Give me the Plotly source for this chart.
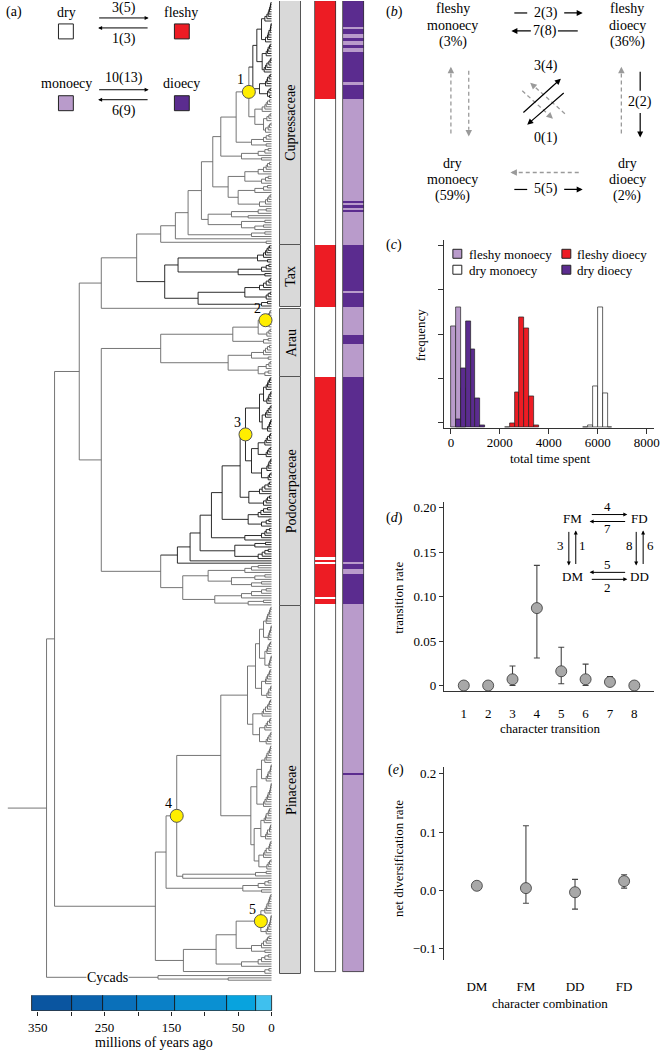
import plotly.graph_objects as go

W, H = 666, 1054
FONT = "Liberation Serif"

# ------------------------------------------------------------------ DATA
# (a) dated phylogeny (node ages in millions of years; "t" = tip)
def N(age, *kids, mark=None):
    return {"age": age, "mark": mark, "col": None,
            "kids": [k if isinstance(k, dict) else
                     {"age": 0.0, "mark": None, "col": None, "kids": []} for k in kids]}

def L(*ages):  # ladder-shaped subclade with the given internal node ages
    node = N(ages[-1], "t", "t")
    for a in reversed(ages[:-1]):
        node = N(a, node, "t")
    return node

t = "t"
juniperus = N(28, N(22, N(15, L(10, 7, 5, 4, 3, 2, 1.5, 1), L(9, 6, 5, 4, 2, 1.5, 1, 0.5)),
                        N(14, L(8, 6, 5, 3, 2), L(11, 9, 7, 4, 2, 1))),
              N(18, L(9, 7, 6, 3.5, 2), N(6, L(4, 2), N(3, t, t))))
cupressus = N(25, L(14, 10, 8, 6, 3), N(12, L(7, 4, 2), L(9, 5, 3, 1)))
callitroideae = N(65, N(40, L(20, 12, 8, 6, 3), N(15, L(9, 5), t)),
                      N(50, N(25, L(12, 6), t), L(18, 9, 6, 4, 2)))
taxodioideae = N(95, N(60, N(20, N(8, t, t), t), N(35, t, t)), N(45, N(10, t, t), L(25, 12)))
cupressaceae = N(166,
    N(144,
      N(125,
        N(105,
          N(88,
            N(76, N(53, N(34, juniperus, cupressus, mark=1), N(30, L(12, 8, 4), N(8, t, t))),
                  N(45, N(20, L(10, 5), t), N(15, t, t))),
            callitroideae),
          taxodioideae),
        N(30, N(10, t, t), t)),
      t),
    N(8, t, t))
taxaceae = N(160, N(140, N(21, L(12, 9, 7, 5, 3), N(6, t, t)),
                         N(50, N(15, L(8, 4), t), N(10, t, t))),
                  N(110, N(40, L(18, 12, 8, 4, 2), N(8, L(5, 2), t)), N(15, N(6, t, t), t)))
araucariaceae = N(166, N(58, N(20, N(9, L(5, 3, 2), L(4, 2, 1), mark=2), L(7, 4, 2)),
                             N(12, N(5, t, t), t)),
                       N(65, N(30, L(12, 9, 6, 3), N(5, t, t)),
                             N(20, N(8, L(4, 2), t), L(10, 5))))
podo_node3 = N(39, N(18, N(12, L(8, 6, 5, 3, 2), L(7, 5, 4, 2, 1)),
                         N(14, L(9, 7, 5, 2.5, 1), L(6, 4, 3, 1.5, 0.8))),
                   N(30, N(20, L(10, 8, 6, 3, 1.5), L(8, 6, 4, 2)),
                         N(15, L(7, 5, 4, 2, 1), N(5, L(3, 1), t))), mark=3)
podo_ladder = N(141, N(122, N(107, N(90, N(74, N(47, podo_node3,
                                                     N(34, L(18, 14, 10, 5, 3), L(12, 8, 6, 3))),
                                              N(35, L(20, 16, 12, 6), L(15, 8, 4))),
                                        N(40, L(15, 10, 8, 3), t)),
                                  N(55, N(25, N(9, t, t), t), L(20, 14, 10, 5))),
                            t),
                t)
podo_basal = N(133, N(95, L(40, 30, 20), N(60, N(25, N(10, t, t), t), L(30, 15))),
                    N(85, L(45, 30, 15, 8), N(35, N(12, t, t), t)))
podocarpaceae = N(166, podo_ladder, podo_basal)
pinus_upper = N(36, N(24, N(18, N(12, L(8, 7, 6, 4, 3, 2, 1), L(5, 4, 3, 1.5, 1, 0.5)),
                                 N(10, L(7, 6, 5, 3, 1.5), L(4, 3, 2, 1, 0.5))),
                           N(15, L(9, 8, 6, 4, 3, 2), L(7, 5, 4, 1.5, 1))),
                    N(28, L(14, 12, 9, 6, 4, 3, 1.5),
                          N(18, L(10, 8, 6, 3, 2), L(8, 6, 4, 2, 1))))
pinus_lower = N(31, N(22, N(15, L(10, 8, 7, 5, 3, 2, 1.5), L(8, 6, 5, 2.5, 1.5, 1, 0.5)),
                          L(12, 10, 8, 6, 5, 3, 2, 1.5, 0.8, 0.5)),
                    N(26, N(16, L(11, 9, 8, 5, 4, 3), L(9, 7, 6, 3, 2, 1.5)),
                          N(19, L(12, 10, 8, 4, 3, 2, 1), L(7, 5, 3, 1))))
pinaceae = N(174,
    N(158, N(142, N(76, pinus_upper, pinus_lower), N(133, N(24, N(8, t, t), t), t), mark=4),
           N(43, N(20, L(10, 5), t), N(15, t, t))),
    N(132, N(83, N(53, N(16, L(10, 8, 7, 5, 4, 3, 2, 1), L(8, 6, 5, 3, 2, 1.5, 1, 0.5), mark=5),
                       N(30, L(15, 12, 8, 6, 4), N(10, t, t))),
                N(45, L(20, 15, 10, 5), t)),
           N(10, N(4, t, t), t)))
cycads = N(170, t, N(65, t, t))
tree = N(337, N(325, N(288, N(255, N(202, cupressaceae, taxaceae), t),
                            N(255, araucariaceae, podocarpaceae)),
                     pinaceae),
         cycads)
root_stem_age = 395

families = ["Cupressaceae", "Tax", "Arau", "Podocarpaceae", "Pinaceae"]
family_clades = [cupressaceae, taxaceae, araucariaceae, podocarpaceae, pinaceae]

# character states of the tips, top to bottom, as run lengths
fruit_runs = [("fleshy", 42), ("dry", 63), ("fleshy", 27), ("dry", 30), ("fleshy", 78),
              ("dry", 1), ("fleshy", 1), ("dry", 1), ("fleshy", 14), ("dry", 1),
              ("fleshy", 2), ("dry", 159)]
sex_runs = [("dioecy", 11), ("monoecy", 1), ("dioecy", 2), ("monoecy", 2), ("dioecy", 1),
            ("monoecy", 2), ("dioecy", 1), ("monoecy", 2), ("dioecy", 13), ("monoecy", 1),
            ("dioecy", 6), ("monoecy", 44), ("dioecy", 1), ("monoecy", 1), ("dioecy", 1),
            ("monoecy", 1), ("dioecy", 1), ("monoecy", 14), ("dioecy", 20), ("monoecy", 1),
            ("dioecy", 6), ("monoecy", 12), ("dioecy", 4), ("monoecy", 14), ("dioecy", 80),
            ("monoecy", 1), ("dioecy", 2), ("monoecy", 2), ("dioecy", 13), ("monoecy", 73),
            ("dioecy", 1), ("monoecy", 85)]

# geological time bar
period_bounds = [359, 299, 252, 201, 145, 66, 23, 0]
period_colors = ["#0a55a0", "#0a62ad", "#0a70ba", "#0a80c7", "#0a90d2", "#08a3de", "#3fc0ee"]
time_ticks = [350, 300, 250, 200, 150, 100, 50, 0]
time_labels = ["350", "", "250", "", "150", "", "50", "0"]

# (c) histograms of total time spent (bin starts, bin width 200)
hist_fm_bins = [0, 200, 400]
hist_fm_freq = [2292, 2719, 900]
hist_dd_bins = [200, 400, 600, 800, 1000, 1200]
hist_dd_freq = [180, 1348, 2404, 1775, 674, 45]
hist_fd_bins = [2200, 2400, 2600, 2800, 3000, 3200, 3400]
hist_fd_freq = [20, 90, 809, 2494, 2247, 719, 45]
hist_dm_bins = [5400, 5600, 5800, 6000, 6200, 6400]
hist_dm_freq = [20, 45, 944, 2719, 787, 20]
time_axis_ticks = [0, 2000, 4000, 6000, 8000]
freq_ticks = [112, 1112, 2112, 3112, 4112]

# (d) transition rates
transitions = [1, 2, 3, 4, 5, 6, 7, 8]
rate = [0.0, 0.0, 0.007, 0.087, 0.016, 0.007, 0.004, 0.0]
rate_hi = [0.0, 0.0, 0.022, 0.135, 0.043, 0.024, 0.010, 0.0]
rate_lo = [0.0, 0.0, 0.0, 0.031, 0.002, 0.0, 0.0, 0.0]

# (e) net diversification
combos = ["DM", "FM", "DD", "FD"]
div = [0.008, 0.004, -0.003, 0.016]
div_hi = [0.010, 0.111, 0.019, 0.027]
div_lo = [0.006, -0.022, -0.032, 0.004]

# ------------------------------------------------------------------ COLOURS
RED, WHITE, LPUR, DPUR = "#ed1c24", "#ffffff", "#b99bcb", "#5b2c8f"
GRAY, DARK = "#666666", "#151515"
state_col = {"fleshy": RED, "dry": WHITE, "monoecy": LPUR, "dioecy": DPUR}

def paint(node, col):
    node["col"] = col
    for k in node["kids"]:
        paint(k, col)

paint(juniperus, DARK)
paint(taxaceae, DARK)
paint(podo_ladder, DARK)

# ------------------------------------------------------------------ TREE LAYOUT
counter = [0]
def layout(node):
    if not node["kids"]:
        node["y"] = counter[0]
        counter[0] += 1
    else:
        for k in node["kids"]:
            layout(k)
        node["y"] = (node["kids"][0]["y"] + node["kids"][-1]["y"]) / 2
layout(tree)
n_tips = counter[0]

segs = {}
marks = []
def collect(node, parent_age):
    col = node["col"] or GRAY
    xs, ys = segs.setdefault(col, ([], []))
    xs += [parent_age, node["age"], None]
    ys += [node["y"], node["y"], None]
    if node["mark"] is not None:
        marks.append(node)
    if node["kids"]:
        xs += [node["age"], node["age"], None]
        ys += [node["kids"][0]["y"], node["kids"][-1]["y"], None]
        for k in node["kids"]:
            collect(k, node["age"])
collect(tree, root_stem_age)

def tip_range(node):
    if not node["kids"]:
        return node["y"], node["y"]
    a = tip_range(node["kids"][0]); b = tip_range(node["kids"][-1])
    return a[0], b[1]

# pixel geometry of panel (a)
PX_AGE0, PX_PER_MA = 274.0, 0.6737
TIP_TOP, TIP_BOTTOM = 1.5, 982.0
TIPSTEP = (TIP_BOTTOM - TIP_TOP) / (n_tips - 1)
xr_tree = [PX_AGE0 / PX_PER_MA, (PX_AGE0 - W) / PX_PER_MA]
yr_tree = [(H - TIP_TOP) / TIPSTEP, -TIP_TOP / TIPSTEP]

fig = go.Figure()
for col, (xs, ys) in segs.items():
    fig.add_trace(go.Scatter(x=xs, y=ys, mode="lines", line=dict(color=col, width=0.9),
                             xaxis="x", yaxis="y", hoverinfo="skip"))
fig.add_trace(go.Scatter(x=[m["age"] for m in marks], y=[m["y"] for m in marks],
                         mode="markers", marker=dict(size=13, color="#ffee00",
                                                     line=dict(color="#555", width=1)),
                         xaxis="x", yaxis="y", hoverinfo="skip"))

ann, shapes = [], []
for m in marks:
    ann.append(dict(x=m["age"], y=m["y"], xref="x", yref="y", text=str(m["mark"]),
                    showarrow=False, xshift=-8, yshift=12,
                    font=dict(family=FONT, size=14, color="black")))
ann.append(dict(x=(PX_AGE0 - 108) / PX_PER_MA, y=cycads["y"], xref="x", yref="y",
                text="Cycads", showarrow=False, bgcolor="white", borderpad=0,
                font=dict(family=FONT, size=14, color="black")))

# family bars and state strips (x3 axis in pixel units)
BAR_FAM, BAR_FRUIT, BAR_SEX, BW = 293.5, 328.5, 356.5, 21
for name, clade in zip(families, family_clades):
    lo, hi = tip_range(clade)
    fig.add_trace(go.Bar(x=[BAR_FAM], y=[hi - lo + 1], base=[lo - 0.5], width=BW,
                         marker=dict(color="#d9d9d9", line=dict(color="#555", width=1)),
                         xaxis="x3", yaxis="y", hoverinfo="skip"))
    ann.append(dict(x=BAR_FAM, y=(lo + hi) / 2, xref="x3", yref="y", text=name,
                    textangle=-90, showarrow=False,
                    font=dict(family=FONT, size=14, color="black")))

def strip(runs, xc):
    start = 0
    for state, n in runs:
        fig.add_trace(go.Bar(x=[xc], y=[n], base=[start - 0.5], width=BW,
                             marker=dict(color=state_col[state], line=dict(width=0)),
                             xaxis="x3", yaxis="y", hoverinfo="skip"))
        start += n
    fig.add_trace(go.Bar(x=[xc], y=[start], base=[-0.5], width=BW,
                         marker=dict(color="rgba(0,0,0,0)", line=dict(color="#333", width=0.8)),
                         xaxis="x3", yaxis="y", hoverinfo="skip"))
strip(fruit_runs, BAR_FRUIT)
strip(sex_runs, BAR_SEX)

# geological time bar
fig.add_trace(go.Bar(y=[0] * len(period_colors),
                     x=[period_bounds[i] - period_bounds[i + 1] for i in range(len(period_colors))],
                     base=period_bounds[1:], orientation="h", width=1,
                     marker=dict(color=period_colors, line=dict(color="#111", width=0.8)),
                     xaxis="x2", yaxis="y2", hoverinfo="skip"))

# (c) histograms
def hist(bins, freq, col):
    fig.add_trace(go.Bar(x=[b + 100 for b in bins], y=freq, width=200,
                         marker=dict(color=col, line=dict(color="#222", width=0.7)),
                         xaxis="x4", yaxis="y4", hoverinfo="skip"))
hist(hist_fm_bins, hist_fm_freq, LPUR)
hist(hist_dd_bins, hist_dd_freq, DPUR)
hist(hist_fd_bins, hist_fd_freq, RED)
hist(hist_dm_bins, hist_dm_freq, WHITE)

# (d) rates
fig.add_trace(go.Scatter(x=transitions, y=rate, mode="markers",
                         marker=dict(size=11, color="#a8a8a8", line=dict(color="#333", width=0.8)),
                         error_y=dict(type="data", symmetric=False,
                                      array=[h - r for h, r in zip(rate_hi, rate)],
                                      arrayminus=[r - l for r, l in zip(rate, rate_lo)],
                                      color="#444", thickness=1.1, width=3),
                         xaxis="x5", yaxis="y5", hoverinfo="skip"))
# (e) diversification
fig.add_trace(go.Scatter(x=list(range(1, len(combos) + 1)), y=div, mode="markers",
                         marker=dict(size=11, color="#a8a8a8", line=dict(color="#333", width=0.8)),
                         error_y=dict(type="data", symmetric=False,
                                      array=[h - r for h, r in zip(div_hi, div)],
                                      arrayminus=[r - l for r, l in zip(div, div_lo)],
                                      color="#444", thickness=1.1, width=3),
                         xaxis="x6", yaxis="y6", hoverinfo="skip"))

# ------------------------------------------------------------------ TEXT / DIAGRAMS
def P(x, y):
    return x / W, 1 - y / H

def text(x, y, s, size=14, angle=0, xanchor="center"):
    px_, py_ = P(x, y)
    ann.append(dict(x=px_, y=py_, xref="paper", yref="paper", text=s, showarrow=False,
                    textangle=angle, xanchor=xanchor, yanchor="middle",
                    font=dict(family=FONT, size=size, color="black")))

def line(x0, y0, x1, y1, col="black", width=1.2, dash=None):
    a, b = P(x0, y0); c, d = P(x1, y1)
    shapes.append(dict(type="line", xref="paper", yref="paper", x0=a, y0=b, x1=c, y1=d,
                       line=dict(color=col, width=width, dash=dash)))

def arrow(x0, y0, x1, y1, col="black", width=1.2, size=1.0):
    hx, hy = P(x1, y1)
    ann.append(dict(x=hx, y=hy, xref="paper", yref="paper", ax=x0 - x1, ay=y0 - y1,
                    axref="pixel", ayref="pixel", showarrow=True, arrowhead=2,
                    arrowsize=size, arrowwidth=width, arrowcolor=col, text="", standoff=0))

def dashed_arrow(x0, y0, x1, y1, col="#9a9a9a"):
    dx, dy = x1 - x0, y1 - y0
    ln = (dx * dx + dy * dy) ** 0.5
    ux, uy = dx / ln, dy / ln
    line(x0, y0, x1 - 7 * ux, y1 - 7 * uy, col=col, width=1.3, dash="4px,3px")
    arrow(x1 - 8 * ux, y1 - 8 * uy, x1, y1, col=col, width=1.3)

def rect(x0, y0, x1, y1, fill, lc="#222", lw=1):
    a, b = P(x0, y0); c, d = P(x1, y1)
    shapes.append(dict(type="rect", xref="paper", yref="paper", x0=a, y0=b, x1=c, y1=d,
                       fillcolor=fill, line=dict(color=lc, width=lw)))

# (a) legend
text(14, 11, "(a)")
text(67, 12, "dry"); text(183, 12, "fleshy")
rect(59, 23, 74, 38, WHITE); rect(176, 23, 191, 38, RED)
text(125, 7, "3(5)"); text(125, 38, "1(3)")
arrow(99, 17, 150, 17, width=1, size=0.8); arrow(150, 27, 99, 27, width=1, size=0.8)
text(67, 83, "monoecy"); text(183, 83, "dioecy")
rect(59, 95, 74, 110, LPUR); rect(176, 95, 191, 110, DPUR)
text(125, 77, "10(13)"); text(125, 110, "6(9)")
arrow(99, 89, 150, 89, width=1, size=0.8); arrow(150, 99, 99, 99, width=1, size=0.8)
text(155, 1044, "millions of years ago")

# (b) state diagram
text(398, 11, "(<i>b</i>)")
for (xc, yc, lines_) in [(457, 8, ["fleshy", "monoecy", "(3%)"]),
                         (633, 8, ["fleshy", "dioecy", "(36%)"]),
                         (457, 163, ["dry", "monoecy", "(59%)"]),
                         (633, 163, ["dry", "dioecy", "(2%)"])]:
    for i, s in enumerate(lines_):
        text(xc, yc + 16.5 * i, s)
text(551, 12, "2(3)"); line(519, 12, 532, 12); arrow(568, 12, 588, 12)
text(550, 30, "7(8)"); arrow(537, 30, 516, 30); line(563, 30, 583, 30)
text(551, 65, "3(4)"); text(551, 137, "0(1)")
dashed_arrow(570, 113, 535, 82)
dashed_arrow(527, 90, 558, 118)
arrow(527, 113, 566, 78)
arrow(570, 91, 532, 124)
dashed_arrow(455, 133, 455, 66)
dashed_arrow(473, 70, 473, 136)
dashed_arrow(627, 133, 627, 66)
line(646, 71, 646, 90); text(646, 101, "2(2)"); arrow(646, 111, 646, 137)
dashed_arrow(584, 172, 515, 172)
text(551, 189, "5(5)"); line(519, 189, 532, 189); arrow(568, 189, 588, 189)

# (c) legend and titles
text(398, 245, "(<i>c</i>)")
rect(457, 249, 466, 258, LPUR); text(471, 254, "fleshy monoecy", 13, xanchor="left")
rect(567, 249, 576, 258, RED); text(580, 254, "fleshy dioecy", 13, xanchor="left")
rect(457, 265, 466, 274, WHITE); text(471, 270, "dry monoecy", 13, xanchor="left")
rect(567, 265, 576, 274, DPUR); text(580, 270, "dry dioecy", 13, xanchor="left")
text(424, 335, "frequency", 13, angle=-90)
text(555, 459, "total time spent", 13)

# (d) inset and titles
text(398, 518, "(<i>d</i>)")
text(402, 598, "transition rate", 13, angle=-90)
text(555, 730, "character transition", 13)
text(578, 519, "FM", 13); text(645, 519, "FD", 13)
text(578, 577, "DM", 13); text(645, 577, "DD", 13)
text(613, 507, "4", 13); text(613, 529, "7", 13)
text(566, 546, "3", 13); text(588, 546, "1", 13)
text(635, 546, "8", 13); text(656, 546, "6", 13)
text(613, 565, "5", 13); text(613, 588, "2", 13)
arrow(596, 515, 633, 515, width=1, size=0.8); arrow(632, 522, 595, 522, width=1, size=0.8)
arrow(574, 531, 574, 566, width=1, size=0.8); arrow(581, 566, 581, 531, width=1, size=0.8)
arrow(642, 531, 642, 566, width=1, size=0.8); arrow(649, 566, 649, 531, width=1, size=0.8)
arrow(632, 573, 595, 573, width=1, size=0.8); arrow(596, 580, 633, 580, width=1, size=0.8)

# (e) titles
text(400, 771, "(<i>e</i>)")
text(402, 860, "net diversification rate", 13, angle=-90)
text(555, 1005, "character combination", 13)

# ------------------------------------------------------------------ AXES
tickfont = dict(family=FONT, size=13, color="black")
def dom_x(a, b): return [a / W, b / W]
def dom_y(top, bottom): return [1 - bottom / H, 1 - top / H]
hidden = dict(visible=False, showgrid=False, zeroline=False)

fig.update_layout(
    width=W, height=H, margin=dict(l=0, r=0, t=0, b=0),
    paper_bgcolor="white", plot_bgcolor="rgba(0,0,0,0)",
    showlegend=False, barmode="overlay", bargap=0,
    font=dict(family=FONT, color="black"),
    annotations=ann, shapes=shapes,
    xaxis=dict(domain=[0, 1], range=xr_tree, anchor="y", **hidden),
    yaxis=dict(domain=[0, 1], range=yr_tree, anchor="x", **hidden),
    xaxis3=dict(range=[0, W], overlaying="x", anchor="y", **hidden),
    xaxis2=dict(domain=[0, 1], range=xr_tree, anchor="y2", showgrid=False, zeroline=False,
                showline=False, tickvals=time_ticks, ticktext=time_labels, ticks="outside",
                ticklen=4, tickcolor="#222", tickfont=tickfont),
    yaxis2=dict(domain=dom_y(997, 1013), range=[-0.5, 0.5], anchor="x2", **hidden),
    xaxis4=dict(domain=dom_x(448, 660), range=[-284, 8303], anchor="y4", showgrid=False,
                zeroline=False, showline=True, linecolor="#333", linewidth=1,
                tickvals=time_axis_ticks, ticks="outside", ticklen=5, tickcolor="#333",
                ticklabelstandoff=-2, tickfont=tickfont),
    yaxis4=dict(domain=dom_y(240, 428), range=[0, 4225], anchor="x4", showgrid=False,
                zeroline=False, showline=True, linecolor="#333", linewidth=1,
                tickvals=freq_ticks, ticks="outside", ticklen=5, tickcolor="#333",
                showticklabels=False),
    xaxis5=dict(domain=dom_x(448, 660), range=[0.186, 8.81], anchor="y5", showgrid=False,
                zeroline=False, showline=True, linecolor="#333", linewidth=1,
                tickvals=transitions, ticks="outside", ticklen=10,
                tickcolor="rgba(0,0,0,0)", tickfont=tickfont),
    yaxis5=dict(domain=dom_y(502, 692), range=[-0.0062, 0.2067], anchor="x5", showgrid=False,
                zeroline=False, showline=True, linecolor="#333", linewidth=1,
                tickvals=[0, 0.05, 0.10, 0.15, 0.20],
                ticktext=["0", "0.05", "0.10", "0.15", "0.20"],
                ticks="outside", ticklen=4, tickcolor="#333", tickfont=tickfont),
    xaxis6=dict(domain=dom_x(448, 660), range=[0.33, 4.61], anchor="y6", showgrid=False,
                zeroline=False, showline=False,
                tickvals=list(range(1, len(combos) + 1)), ticktext=combos,
                ticks="outside", ticklen=14, tickcolor="rgba(0,0,0,0)", tickfont=tickfont),
    yaxis6=dict(domain=dom_y(768, 962), range=[-0.1197, 0.212], anchor="x6", showgrid=False,
                zeroline=False, showline=True, linecolor="#333", linewidth=1,
                tickvals=[-0.1, 0.0, 0.1, 0.2], ticktext=["\u22120.1", "0.0", "0.1", "0.2"],
                ticks="outside", ticklen=4, tickcolor="#333", tickfont=tickfont),
)

fig.write_html("out.html", config={"displayModeBar": False},
               post_script="document.body.style.margin='0';document.body.style.padding='0';"
                           "document.body.style.overflow='hidden';")
